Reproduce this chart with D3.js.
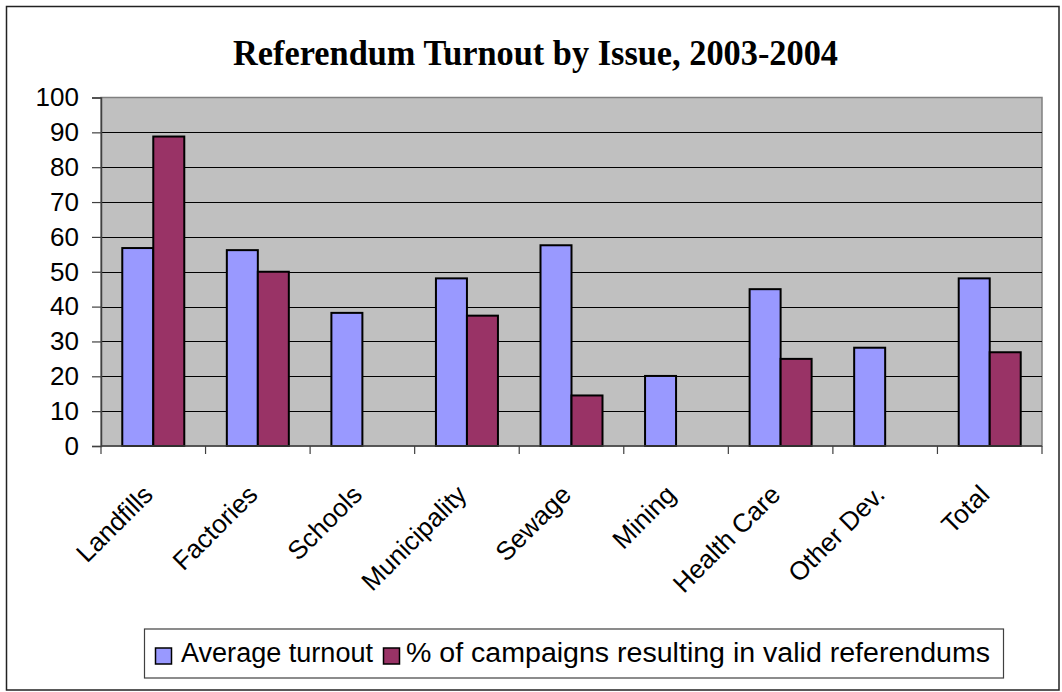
<!DOCTYPE html>
<html>
<head>
<meta charset="utf-8">
<script src="https://cdn.jsdelivr.net/npm/d3@7"></script>
<style>
  html, body { margin: 0; padding: 0; background: #fff; }
  svg { display: block; }
</style>
</head>
<body>
<svg id="chart" width="1062" height="692"></svg>
<script>
// Referendum turnout by issue, 2003-2004
const categories = ["Landfills", "Factories", "Schools", "Municipality", "Sewage",
                    "Mining", "Health Care", "Other Dev.", "Total"];
const averageTurnout = [56.8, 56.2, 38.2, 48.1, 57.6, 20.1, 45.0, 28.2, 48.1];
const validReferendums = [88.8, 50.0, null, 37.4, 14.5, null, 25.0, null, 26.9];
const seriesNames = ["Average turnout", "% of campaigns resulting in valid referendums"];
const yTicks = [0, 10, 20, 30, 40, 50, 60, 70, 80, 90, 100];

const colors = ["#9999FF", "#993366"];
const sans = "'Liberation Sans', Arial, sans-serif";

const svg = d3.select("#chart");

// outer frame
svg.append("rect")
  .attr("x", 6.5).attr("y", 6.5)
  .attr("width", 1052.5).attr("height", 683.5)
  .attr("fill", "#fff").attr("stroke", "#222").attr("stroke-width", 1.5);

// title
svg.append("text")
  .attr("x", 535.5).attr("y", 65)
  .attr("text-anchor", "middle")
  .attr("font-family", "'Liberation Serif', 'Times New Roman', serif")
  .attr("font-weight", "bold")
  .attr("font-size", 35)
  .attr("textLength", 605)
  .attr("lengthAdjust", "spacingAndGlyphs")
  .text("Referendum Turnout by Issue, 2003-2004");

const plot = { left: 101, right: 1042, top: 97.5, bottom: 446 };

const x = d3.scaleBand()
  .domain(categories)
  .range([plot.left, plot.right])
  .paddingInner(0).paddingOuter(0);

const y = d3.scaleLinear().domain([0, 100]).range([plot.bottom, plot.top]);

// plot background
svg.append("rect")
  .attr("x", plot.left).attr("y", plot.top)
  .attr("width", plot.right - plot.left).attr("height", plot.bottom - plot.top)
  .attr("fill", "#C0C0C0")
  .attr("stroke", "#808080").attr("stroke-width", 1.5);

// horizontal gridlines
svg.append("g")
  .selectAll("line")
  .data(yTicks.filter(d => d > 0 && d < 100))
  .join("line")
  .attr("x1", plot.left).attr("x2", plot.right)
  .attr("y1", d => Math.round(y(d)) + 0.5).attr("y2", d => Math.round(y(d)) + 0.5)
  .attr("stroke", "#000").attr("stroke-width", 1);

// bars
const barW = 31;
const inner = d3.scaleBand().domain([0, 1]).range([0, barW * 2]);
const groupOffset = (x.bandwidth() - barW * 2) / 2;

const seriesData = [averageTurnout, validReferendums];
seriesData.forEach((vals, si) => {
  svg.append("g")
    .selectAll("rect")
    .data(categories.map((c, i) => ({ c, v: vals[i] })).filter(d => d.v != null))
    .join("rect")
    .attr("x", d => x(d.c) + groupOffset + inner(si))
    .attr("y", d => y(d.v))
    .attr("width", inner.bandwidth())
    .attr("height", d => y(0) - y(d.v))
    .attr("fill", colors[si])
    .attr("stroke", "#000").attr("stroke-width", 2);
});

// y axis
const yAxis = d3.axisLeft(y).tickValues(yTicks).tickSize(9).tickPadding(13);
const gy = svg.append("g").attr("transform", `translate(${plot.left},0)`).call(yAxis);
gy.select(".domain").attr("stroke", "#404040").attr("stroke-width", 1.5);
gy.selectAll(".tick line").attr("stroke", "#404040").attr("stroke-width", 1.2);
gy.selectAll(".tick text")
  .attr("font-family", sans)
  .attr("font-size", 26).attr("fill", "#000");

// x axis: ticks at category boundaries
const gx = svg.append("g").attr("transform", `translate(0,${plot.bottom})`);
gx.append("line")
  .attr("x1", plot.left).attr("x2", plot.right)
  .attr("y1", 0).attr("y2", 0)
  .attr("stroke", "#404040").attr("stroke-width", 1.5);
const bounds = categories.map(c => x(c)).concat([x(categories[categories.length - 1]) + x.bandwidth()]);
gx.selectAll("line.tk")
  .data(bounds)
  .join("line").attr("class", "tk")
  .attr("x1", d => d).attr("x2", d => d)
  .attr("y1", 0).attr("y2", 8)
  .attr("stroke", "#404040").attr("stroke-width", 1.2);

gx.selectAll("text")
  .data(categories)
  .join("text")
  .attr("transform", d => `translate(${x(d) + x.bandwidth() / 2 - 12},${37}) rotate(-45)`)
  .attr("text-anchor", "end")
  .attr("dy", "0.72em")
  .attr("font-family", sans)
  .attr("font-size", 26)
  .text(d => d);

// legend
const lg = svg.append("g");
lg.append("rect")
  .attr("x", 144.5).attr("y", 629)
  .attr("width", 859).attr("height", 49)
  .attr("fill", "#fff").attr("stroke", "#404040").attr("stroke-width", 1.2);

const legendItems = [
  { name: seriesNames[0], color: colors[0], x: 155.5, tx: 181, len: 192 },
  { name: seriesNames[1], color: colors[1], x: 383.5, tx: 406, len: 584 }
];
legendItems.forEach(it => {
  lg.append("rect")
    .attr("x", it.x).attr("y", 648)
    .attr("width", 16).attr("height", 16)
    .attr("fill", it.color).attr("stroke", "#000").attr("stroke-width", 1.5);
  lg.append("text")
    .attr("x", it.tx).attr("y", 662)
    .attr("font-family", sans)
    .attr("font-size", 27)
    .attr("textLength", it.len)
    .attr("lengthAdjust", "spacingAndGlyphs")
    .text(it.name);
});
</script>
</body>
</html>
